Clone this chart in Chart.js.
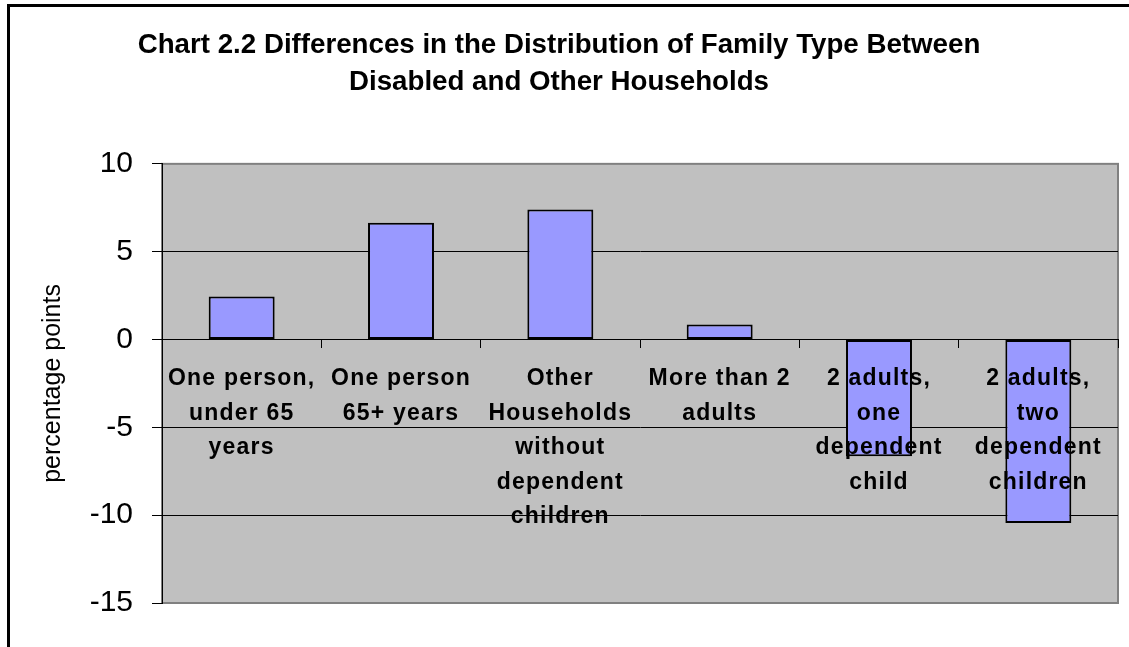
<!DOCTYPE html>
<html>
<head>
<meta charset="utf-8">
<script src="https://cdn.jsdelivr.net/npm/chart.js@4.4.1/dist/chart.umd.min.js"></script>
<style>
  html, body { margin: 0; padding: 0; background: #fff; overflow: hidden; }
  #frame {
    position: absolute; left: 7px; top: 4px;
    width: 1200px; height: 800px;
    border-left: 3px solid #000; border-top: 3px solid #000;
  }
  #wrap { position: absolute; left: 0; top: 0; width: 1129px; height: 647px; }
</style>
</head>
<body>
<div id="frame"></div>
<div id="wrap"><canvas id="chart"></canvas></div>
<script>
// ── Data ─────────────────────────────────────────────────────────────────
const TITLE_LINES = [
  'Chart 2.2 Differences in the Distribution of Family Type Between',
  'Disabled and Other Households'
];
const Y_TITLE = 'percentage points';

const categories = [
  ['One person,', 'under 65', 'years'],
  ['One person', '65+ years'],
  ['Other', 'Households', 'without', 'dependent', 'children'],
  ['More than 2', 'adults'],
  ['2 adults,', 'one', 'dependent', 'child'],
  ['2 adults,', 'two', 'dependent', 'children']
];
const differences = [2.45, 6.65, 7.4, 0.85, -6.65, -10.45];

const Y_MIN = -15;
const Y_MAX = 10;
const Y_STEP = 5;

Chart.defaults.font.family = "'Liberation Sans', Arial, sans-serif";
Chart.defaults.color = '#000';

// grey plot area with a grey frame, like the old Excel charts
const plotBackground = {
  id: 'plotBackground',
  beforeDraw(chart) {
    const { ctx, chartArea: a } = chart;
    ctx.save();
    ctx.fillStyle = '#c0c0c0';
    ctx.fillRect(a.left, a.top, a.right - a.left, a.bottom - a.top);
    ctx.strokeStyle = '#808080';
    ctx.lineWidth = 2;
    ctx.strokeRect(a.left, a.top, a.right - a.left, a.bottom - a.top);
    ctx.restore();
  },
  // category labels (drawn after the bars) are spaced out a little
  afterDatasetsDraw(chart) { chart.ctx.letterSpacing = '1.2px'; },
  afterDraw(chart) { chart.ctx.letterSpacing = '0px'; }
};

new Chart(document.getElementById('chart'), {
  type: 'bar',
  data: {
    labels: categories,
    datasets: [{
      data: differences,
      backgroundColor: '#9999ff',
      borderColor: '#000',
      borderWidth: 2,
      borderSkipped: false,
      categoryPercentage: 1,
      barPercentage: 0.414
    }]
  },
  options: {
    responsive: true,
    maintainAspectRatio: false,
    animation: false,
    layout: { padding: { left: 0, right: 11, top: 0, bottom: 44 } },
    plugins: {
      legend: { display: false },
      tooltip: { enabled: false },
      title: {
        display: true,
        text: TITLE_LINES,
        color: '#000',
        font: { size: 27.7, weight: 'bold', lineHeight: 1.333 },
        padding: { top: 27, bottom: 63 }
      }
    },
    scales: {
      x: {
        position: { y: 0 },
        grid: { drawOnChartArea: false, offset: true, tickLength: 8, color: '#000' },
        border: { color: '#000', width: 1 },
        ticks: {
          z: 1,
          autoSkip: false,
          maxRotation: 0,
          padding: 14,
          color: '#000',
          font: { size: 23, weight: 'bold', lineHeight: 1.5 }
        }
      },
      y: {
        min: Y_MIN,
        max: Y_MAX,
        afterFit(scale) { scale.width = 162; },
        grid: {
          color: (c) => (c.tick && (c.tick.value === Y_MAX || c.tick.value === Y_MIN)) ? '#808080' : '#000',
          tickColor: '#000',
          tickLength: 10,
          lineWidth: 1
        },
        border: { color: '#000', width: 1 },
        ticks: {
          stepSize: Y_STEP,
          padding: 19,
          color: '#000',
          font: { size: 30 }
        },
        title: {
          display: true,
          text: Y_TITLE,
          color: '#000',
          font: { size: 25, lineHeight: 1.2 },
          padding: { top: 38, bottom: 0 }
        }
      }
    }
  },
  plugins: [plotBackground]
});
</script>
</body>
</html>
